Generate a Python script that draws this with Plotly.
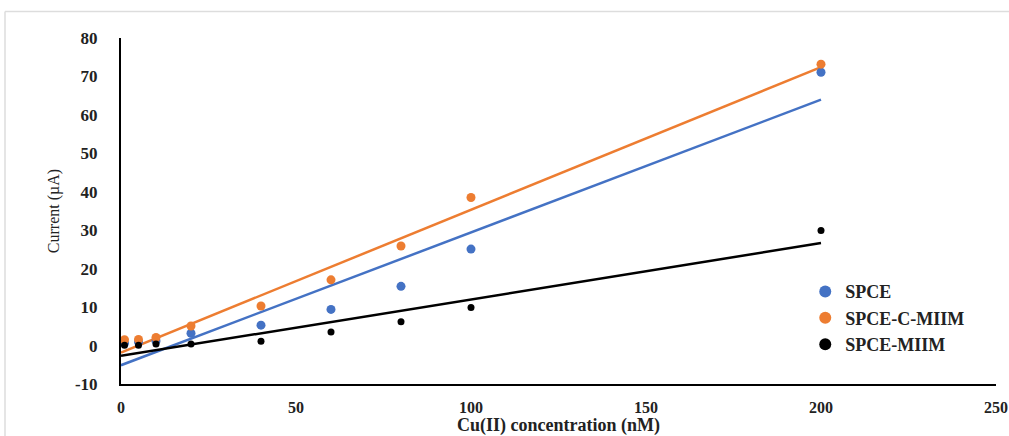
import numpy as np
import plotly.graph_objects as go

# Cu(II) concentration (nM)
conc = [1, 5, 10, 20, 40, 60, 80, 100, 200]

# Peak current (µA) for each electrode
spce = [0.6, 0.9, 1.2, 3.2, 5.3, 9.4, 15.4, 25.1, 71.1]
spce_c_miim = [1.5, 1.6, 2.1, 5.1, 10.3, 17.1, 25.9, 38.5, 73.2]
spce_miim = [0.1, 0.1, 0.4, 0.4, 1.1, 3.5, 6.2, 9.9, 29.9]

x_ticks = [0, 50, 100, 150, 200, 250]
y_ticks = [-10, 0, 10, 20, 30, 40, 50, 60, 70, 80]
y_tick_text = ["-10", "0", "10", "20", "30", "40", "50", "60", "70", "80"]

series = [
    ("SPCE", spce, "#4472C4", 9),
    ("SPCE-C-MIIM", spce_c_miim, "#ED7D31", 9),
    ("SPCE-MIIM", spce_miim, "#000000", 7),
]

fig = go.Figure()

# linear trendlines (least squares), drawn first so the dots sit on top
for name, ys, color, _ in series:
    slope, icpt = np.polyfit(conc, ys, 1)
    xs = np.array([0, max(conc)])
    fig.add_trace(go.Scatter(
        x=xs, y=slope * xs + icpt, mode="lines",
        line=dict(color=color, width=2.5), showlegend=False, hoverinfo="skip",
    ))

for name, ys, color, size in series:
    fig.add_trace(go.Scatter(
        x=conc, y=ys, mode="markers", name=name,
        marker=dict(color=color, size=size),
    ))

tick_font = dict(family="Liberation Serif", size=17, color="#222222", weight="bold")
x_tick_font = dict(family="Liberation Serif", size=16, color="#222222", weight="bold")

fig.update_layout(
    width=1009, height=436,
    margin=dict(l=121, r=13, t=38, b=52),
    paper_bgcolor="white", plot_bgcolor="white",
    showlegend=True,
    legend=dict(
        x=0.782, y=0.19, xanchor="left", yanchor="middle",
        font=dict(family="Liberation Serif", size=18, color="#222222", weight="bold"),
        bgcolor="rgba(0,0,0,0)", itemsizing="constant", itemwidth=30, tracegroupgap=0,
    ),
    xaxis=dict(
        range=[0, 250], tickvals=x_ticks, showgrid=False, zeroline=False,
        showline=True, linecolor="black", linewidth=2, automargin=False,
        tickfont=x_tick_font, ticks="", ticklabelstandoff=8,
        title=dict(text="Cu(II) concentration (nM)", standoff=16,
                   font=dict(family="Liberation Serif", size=18, color="#222222", weight="bold")),
    ),
    yaxis=dict(
        range=[-10, 80], tickvals=y_ticks, ticktext=y_tick_text,
        showgrid=False, zeroline=False, automargin=False,
        showline=True, linecolor="black", linewidth=2,
        tickfont=tick_font, ticks="", ticklabelstandoff=18,
        title=dict(text="Current (µA)", standoff=11,
                   font=dict(family="Liberation Serif", size=16, color="#222222")),
    ),
    shapes=[
        dict(type="line", xref="paper", yref="paper",
             x0=(5 - 121) / 875, x1=1.05, y0=(384 - 12) / 345.6, y1=(384 - 12) / 345.6,
             line=dict(color="#dddddd", width=1.5)),
        dict(type="line", xref="paper", yref="paper",
             x0=(5 - 121) / 875, x1=(5 - 121) / 875, y0=(384 - 12) / 345.6, y1=-0.3,
             line=dict(color="#dddddd", width=1.5)),
    ],
)

fig.write_html("out.html")
